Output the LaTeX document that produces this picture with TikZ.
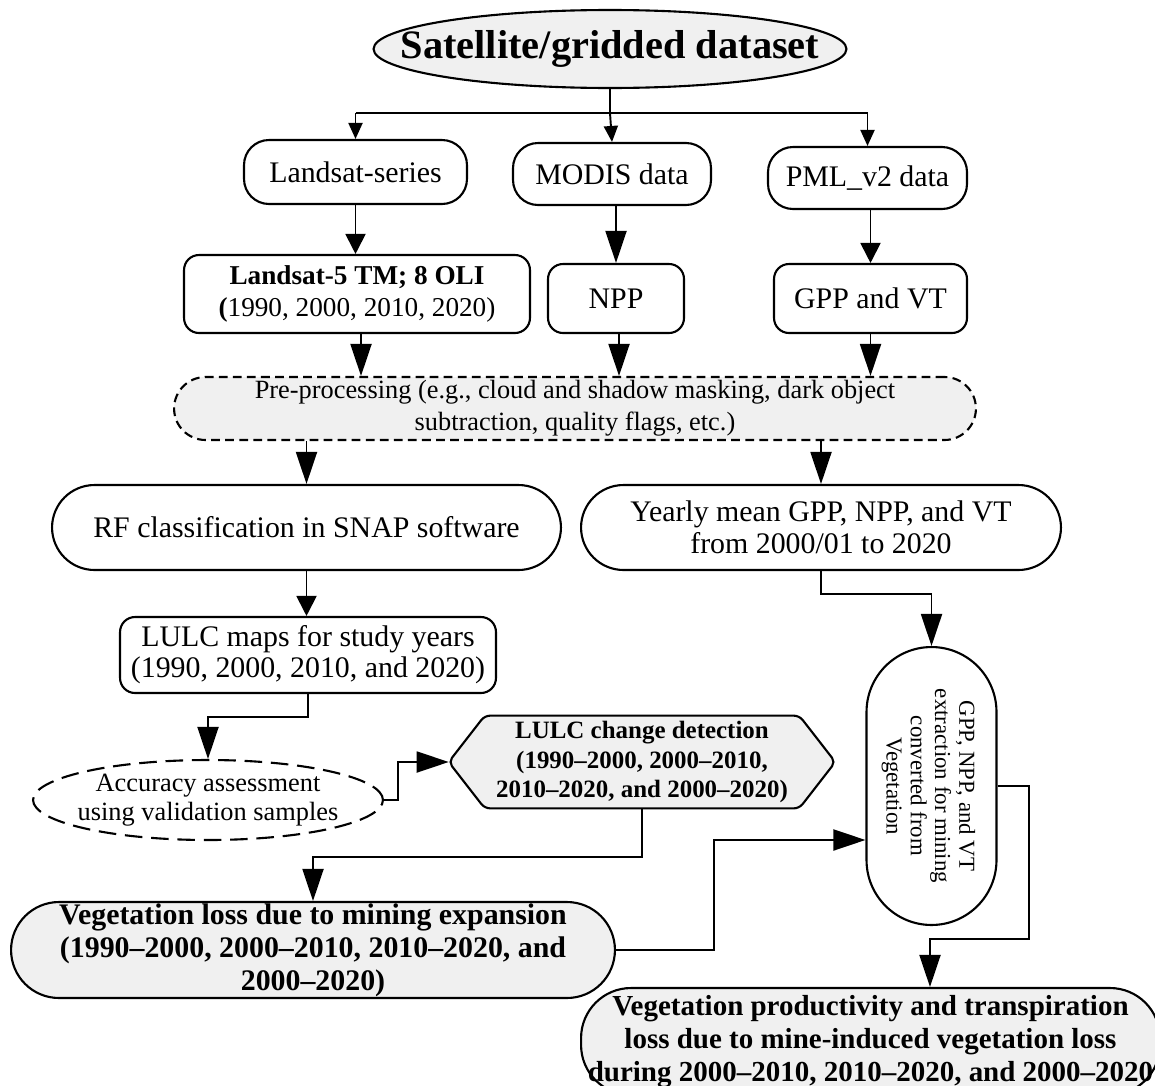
\documentclass[tikz,border=0pt]{standalone}
\usepackage{fontspec}
\setmainfont{Liberation Serif}
\usetikzlibrary{arrows.meta,shapes.geometric,calc}
\definecolor{boxgray}{RGB}{240,240,240}
\newcommand\fmain{\fontsize{17}{20}\selectfont}
\begin{document}
\begin{tikzpicture}[x=0.02cm,y=-0.02cm,
  box/.style={draw, line width=1.2pt, align=center, inner sep=0pt, fill=white},
  txt/.style={align=center, inner sep=0pt},
  conn/.style={line width=1.1pt},
  arr/.style={conn, -{Triangle[length=0.64cm,width=0.42cm]}},
  arrm/.style={conn, -{Triangle[length=0.4cm,width=0.4cm]}},
  arrs/.style={conn, -{Triangle[length=0.32cm,width=0.28cm]}}]
\useasboundingbox (0,0) rectangle (1155,1085);

% nodes
\node[box, ellipse, fill=boxgray, minimum width=9.46cm, minimum height=1.56cm] (title) at (610,49) {};
\node[txt, font=\fontsize{23}{27}\selectfont\bfseries] (titletext) at (title) {Satellite/gridded dataset};

\node[box, rounded corners=0.5cm, minimum width=4.46cm, minimum height=1.28cm, font=\fmain]
  (landsat) at (355.5,172) {Landsat-series};
\node[box, rounded corners=0.5cm, minimum width=3.96cm, minimum height=1.24cm, font=\fmain]
  (modis) at (612,174) {MODIS data};
\node[box, rounded corners=0.5cm, minimum width=3.98cm, minimum height=1.24cm, font=\fmain]
  (pml) at (867.5,178) {PML\_v2 data};

\node[box, rounded corners=0.3cm, minimum width=6.92cm, minimum height=1.56cm,
  font=\fontsize{15.5}{18}\selectfont] (l5) at (357,294)
  {\textbf{Landsat-5 TM; 8 OLI}\\\textbf{(}1990, 2000, 2010, 2020)};
\node[box, rounded corners=0.3cm, minimum width=2.72cm, minimum height=1.38cm, font=\fmain]
  (npp) at (616,298.5) {NPP};
\node[box, rounded corners=0.3cm, minimum width=3.86cm, minimum height=1.38cm, font=\fmain]
  (gpp) at (870.5,298.5) {GPP and VT};

\node[box, dashed, dash pattern=on 5pt off 3pt, fill=boxgray, rounded corners=0.63cm,
  minimum width=16.04cm, minimum height=1.26cm, font=\fontsize{15}{18}\selectfont]
  (pre) at (575,408.5) {Pre-processing (e.g., cloud and shadow masking, dark object\\subtraction, quality flags, etc.)};

\node[box, rounded corners=0.85cm, minimum width=10.18cm, minimum height=1.7cm, font=\fmain]
  (rf) at (306.5,527.5) {RF classification in SNAP software};
\node[box, rounded corners=0.85cm, minimum width=9.6cm, minimum height=1.7cm,
  font=\fontsize{17}{18}\selectfont]
  (yearly) at (821,527.5) {Yearly mean GPP, NPP, and VT\\from 2000/01 to 2020};

\node[box, rounded corners=0.3cm, minimum width=7.52cm, minimum height=1.52cm,
  font=\fontsize{17}{17.5}\selectfont]
  (lulc) at (308,655) {LULC maps for study years\\(1990, 2000, 2010, and 2020)};

\node[box, ellipse, dashed, dash pattern=on 10pt off 5pt, minimum width=7.0cm, minimum height=1.6cm]
  (acc) at (208,800) {};
\node[txt, font=\fontsize{15}{16.5}\selectfont] (acctext) at (acc) {Accuracy assessment\\using validation samples};

\node[inner sep=0pt, minimum width=7.72cm, minimum height=1.84cm] (chg) at (642,762) {};
\draw[line width=1.2pt, fill=boxgray, rounded corners=3pt]
  (chg.west) -- ($(chg.north west)+(36,0)$) -- ($(chg.north east)+(-36,0)$) -- (chg.east)
  -- ($(chg.south east)+(-36,0)$) -- ($(chg.south west)+(36,0)$) -- cycle;
\node[txt, font=\fontsize{14.2}{17}\selectfont\bfseries] (chgtext) at (chg)
  {LULC change detection\\(1990--2000, 2000--2010,\\2010--2020, and 2000--2020)};

\node[box, rounded corners=1.3cm, minimum width=2.6cm, minimum height=5.56cm] (vert) at (931.5,786) {};
\node[txt, rotate=-90, font=\fontsize{13}{13.8}\selectfont] (verttext) at ([xshift=-0.06cm]vert.center)
  {GPP, NPP, and VT\\extraction for mining\\converted from\\Vegetation};

\node[box, fill=boxgray, rounded corners=0.96cm, minimum width=12.08cm, minimum height=1.92cm,
  font=\fontsize{17}{18.8}\selectfont\bfseries]
  (veg) at (313,950) {Vegetation loss due to mining expansion\\(1990--2000, 2000--2010, 2010--2020, and\\2000--2020)};

\node[box, fill=boxgray, rounded corners=1.0cm, minimum width=11.58cm, minimum height=2.14cm,
  font=\fontsize{16.5}{18.6}\selectfont\bfseries]
  (final) at (870.5,1041.5) {Vegetation productivity and transpiration\\loss due to mine-induced vegetation loss\\during 2000--2010, 2010--2020, and 2000--2020};

% connectors
\coordinate (split) at ($(title.south)+(0,24)$);
\draw[conn] (title.south) -- (split);
\draw[conn] (landsat.north |- split) -- (pml.north |- split);
\draw[arrs] (landsat.north |- split) -- (landsat.north);
\draw[arrs] (split) -- (modis.north);
\draw[arrs] (pml.north |- split) -- (pml.north);

\draw[arrm] (landsat.south) -- (landsat.south |- l5.north);
\draw[arr] (npp.north |- modis.south) -- (npp.north);
\draw[arrm] (gpp.north |- pml.south) -- (gpp.north);

\draw[arr] ([xshift=0.08cm]l5.south) -- ([xshift=0.08cm]l5.south |- pre.north);
\draw[arr] ([xshift=0.06cm]npp.south) -- ([xshift=0.06cm]npp.south |- pre.north);
\draw[arr] (gpp.south) -- (gpp.south |- pre.north);

\draw[arr] (rf.north |- pre.south) -- (rf.north);
\draw[arr] (yearly.north |- pre.south) -- (yearly.north);

\draw[arrm] (rf.south) -- (rf.south |- lulc.north);
\draw[arr] (yearly.south) -- ++(0,23) -| (vert.north);
\draw[arr] (lulc.south) -- ++(0,23) -| (acc.north);
\draw[arr] (acc.east) -- ++(14,0) |- (chg.west);
\draw[arr] (chg.south) -- ++(0,49) -| (veg.north);
\draw[arr] (veg.east) -- ++(98,0) |- ([yshift=-1.08cm]vert.west);
\draw[arr] (vert.east) -- ++(31.5,0) -- ++(0,153) -| ([xshift=1.19cm]final.north);
\end{tikzpicture}
\end{document}
